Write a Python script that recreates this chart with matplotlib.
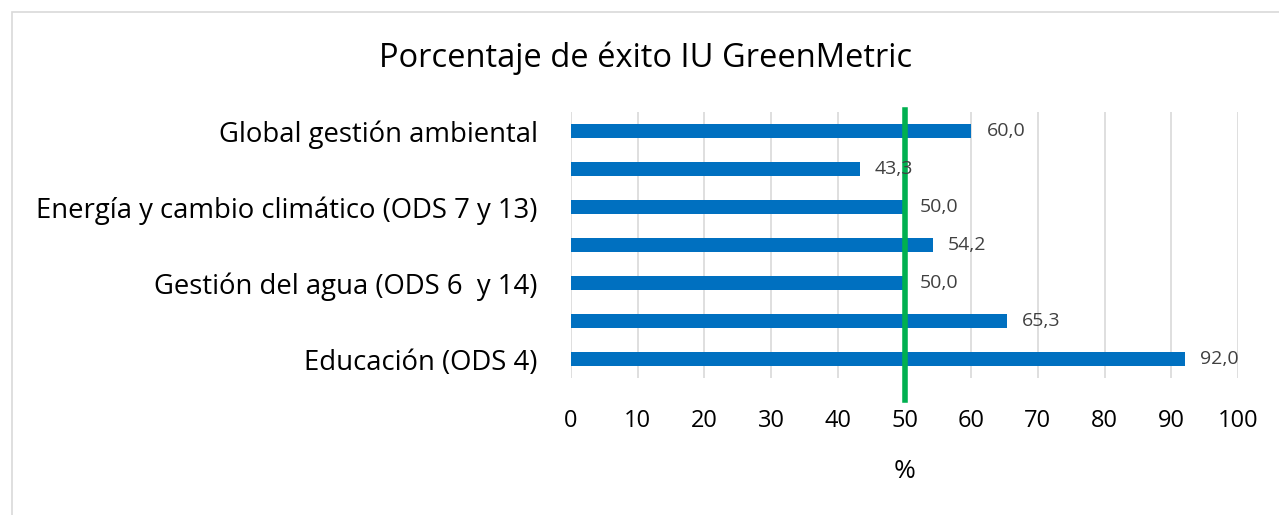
import numpy as np
import matplotlib.pyplot as plt
from matplotlib.patches import Rectangle

plt.rcParams['font.family'] = ['Open Sans', 'DejaVu Sans']

# data, bottom to top (Excel skips every other category label)
categories = ['Educación (ODS 4)', '', 'Gestión del agua (ODS 6  y 14)', '',
              'Energía y cambio climático (ODS 7 y 13)', '', 'Global gestión ambiental']
values = [92.0, 65.3, 50.0, 54.2, 50.0, 43.3, 60.0]
threshold = 50
x_ticks = [0, 10, 20, 30, 40, 50, 60, 70, 80, 90, 100]

fig = plt.figure(figsize=(12.79, 5.15), dpi=100)
ax = fig.add_axes([0.4464, 0.266, 0.5216, 0.5165])

# chart border
fig.patches.append(Rectangle((12 / 1279, -0.01), 1.02, 1 - 12 / 515 + 0.01,
                             transform=fig.transFigure, fill=False,
                             edgecolor='#D9D9D9', linewidth=1.2))

y = np.arange(len(values))
ax.barh(y, values, height=0.35, color='#0070C0', zorder=2)
for yi, v in zip(y, values):
    ax.annotate(f'{v:.1f}'.replace('.', ','), (v, yi), xytext=(11, 0),
                textcoords='offset points', va='center', ha='left',
                fontsize=14, color='#404040', zorder=4)

ax.plot([threshold, threshold], [-1.08, 6.55], color='#00B050', linewidth=4,
        clip_on=False, zorder=3)

ax.set_xlim(0, 100)
ax.set_ylim(-0.5, 6.5)
ax.set_xticks(x_ticks)
ax.set_yticks(y)
ax.set_yticklabels(categories, fontsize=19.8)
ax.tick_params(axis='x', labelsize=17, length=0, pad=22)
ax.tick_params(axis='y', length=0, pad=24)
ax.grid(axis='x', color='#D9D9D9', linewidth=1.2, zorder=0)
for s in ax.spines.values():
    s.set_visible(False)
ax.set_xlabel('%', fontsize=19, labelpad=19)

fig.text(0.5 + 0.005, 1 - 58 / 515, 'Porcentaje de éxito IU GreenMetric',
         fontsize=23.5, ha='center', va='center')

fig.savefig('out.png', dpi=100)
